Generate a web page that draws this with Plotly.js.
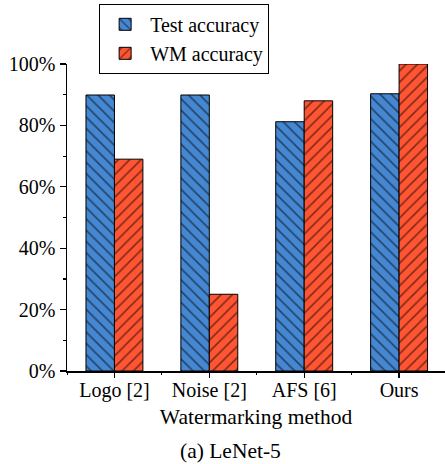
<!DOCTYPE html>
<html>
<head>
<meta charset="utf-8">
<script src="https://cdn.plot.ly/plotly-3.0.1.min.js"></script>
<style>html,body{margin:0;padding:0;background:#fff;}#chart{width:445px;height:464px;}</style>
</head>
<body>
<div id="chart"></div>
<script>
const categories = ["Logo [2]", "Noise [2]", "AFS [6]", "Ours"];
const testAccuracy = [0.899, 0.899, 0.812, 0.903];
const wmAccuracy = [0.69, 0.25, 0.88, 1.0];
const yTickVals = [0, 0.2, 0.4, 0.6, 0.8, 1.0];
const yTickText = ["0%", "20%", "40%", "60%", "80%", "100%"];

const FAMILY = "Liberation Serif";
const font = {family: FAMILY, size: 20, color: "#000"};
const XRANGE = [-0.5, 3.484];

const traces = [
  {
    type: "bar", name: "Test accuracy", x: categories, y: testAccuracy,
    marker: {color: "#4687d2", line: {color: "#000", width: 1},
      pattern: {shape: "\\", fgcolor: "#000", bgcolor: "#4687d2", fillmode: "overlay", size: 8, solidity: 0.2}}
  },
  {
    type: "bar", name: "WM accuracy", x: categories, y: wmAccuracy,
    marker: {color: "#ff5533", line: {color: "#000", width: 1},
      pattern: {shape: "/", fgcolor: "#000", bgcolor: "#ff5533", fillmode: "overlay", size: 8, solidity: 0.2}}
  },
  {
    type: "bar", x: categories, y: categories.map(() => 0), xaxis: "x2", showlegend: false,
    hoverinfo: "skip", marker: {color: "rgba(0,0,0,0)"}
  },
  {
    type: "bar", x: categories, y: categories.map(() => 0), xaxis: "x3", showlegend: false,
    hoverinfo: "skip", marker: {color: "rgba(0,0,0,0)"}
  }
];

const layout = {
  width: 445, height: 464,
  margin: {l: 67, r: 0, t: 64, b: 93},
  paper_bgcolor: "#fff", plot_bgcolor: "#fff",
  font: font,
  barmode: "group", bargap: 0.4, bargroupgap: 0,
  xaxis: {
    type: "category", range: XRANGE, showline: true, linecolor: "#000", linewidth: 1.5,
    ticks: "", showgrid: false, zeroline: false,
    tickfont: font,
    title: {text: "Watermarking method", font: {family: FAMILY, size: 21.5, color: "#000"}, standoff: 8}
  },
  xaxis2: {
    type: "category", overlaying: "x", matches: "x", range: XRANGE, side: "bottom",
    tickson: "boundaries", ticks: "outside", ticklen: 3, tickwidth: 1, tickcolor: "#000",
    showticklabels: false, showgrid: false, showline: false, zeroline: false
  },
  xaxis3: {
    type: "category", overlaying: "x", matches: "x", range: XRANGE, side: "bottom",
    ticks: "outside", ticklen: 6, tickwidth: 1.2, tickcolor: "#000",
    showticklabels: false, showgrid: false, showline: false, zeroline: false
  },
  yaxis: {
    range: [0, 1], showline: true, linecolor: "#000", linewidth: 1.5,
    ticks: "outside", ticklen: 6, tickwidth: 1.2, tickcolor: "#000",
    tickvals: yTickVals, ticktext: yTickText, tickfont: font,
    showgrid: false, zeroline: false,
    minor: {dtick: 0.1, ticks: "outside", ticklen: 3, tickcolor: "#000", showgrid: false}
  },
  legend: {
    x: 0.085, y: 1.196, xanchor: "left", yanchor: "top",
    bordercolor: "#000", borderwidth: 1, bgcolor: "#fff",
    font: {family: FAMILY, size: 20, color: "#000"}, tracegroupgap: 0, itemwidth: 40
  },
  annotations: [
    {text: "(a) LeNet-5", xref: "paper", yref: "paper", x: (230 - 67) / 378, y: -0.261,
     xanchor: "center", yanchor: "middle", showarrow: false, font: {family: FAMILY, size: 21.5, color: "#000"}}
  ],
  showlegend: true
};

Plotly.newPlot("chart", traces, layout, {displayModeBar: false, staticPlot: true});
</script>
</body>
</html>
